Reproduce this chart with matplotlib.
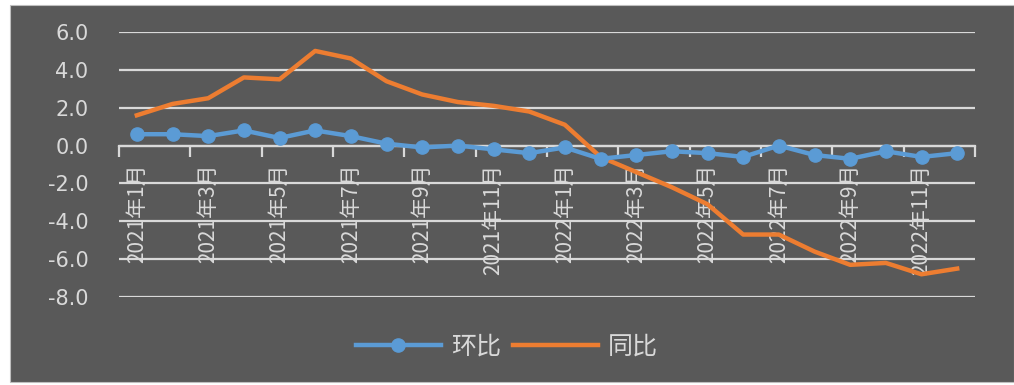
import matplotlib
matplotlib.use("Agg")
import matplotlib.pyplot as plt
from matplotlib.patches import Rectangle

plt.rcParams['font.family'] = ['Noto Sans CJK SC', 'DejaVu Sans']

# --- DATA ---
months = [f"2021年{m}月" for m in range(1, 13)] + [f"2022年{m}月" for m in range(1, 13)]
huanbi = [0.6, 0.6, 0.5, 0.8, 0.4, 0.8, 0.5, 0.1, -0.1, 0.0, -0.2, -0.4,
          -0.1, -0.7, -0.5, -0.3, -0.4, -0.6, 0.0, -0.5, -0.7, -0.3, -0.6, -0.4]
tongbi = [1.6, 2.2, 2.5, 3.6, 3.5, 5.0, 4.6, 3.4, 2.7, 2.3, 2.1, 1.8,
          1.1, -0.6, -1.4, -2.2, -3.1, -4.7, -4.7, -5.6, -6.3, -6.2, -6.8, -6.5]
yticks = [-8, -6, -4, -2, 0, 2, 4, 6]

bg = '#595959'
light = '#D9D9D9'
blue = '#5B9BD5'
orange = '#ED7D31'

fig = plt.figure(figsize=(10.14, 3.85), dpi=100, facecolor='white')
fig.patches.append(Rectangle((10 / 1014, 3 / 385), 1 - 10 / 1014, 1 - 8 / 385,
                             transform=fig.transFigure, facecolor=bg,
                             edgecolor='#BFBFBF', linewidth=0.8, zorder=-10))

ax = fig.add_axes([119 / 1014, 1 - 297 / 385, (975 - 119) / 1014, (297 - 32) / 385])
ax.set_facecolor('none')

x = list(range(len(months)))
ax.plot(x, tongbi, color=orange, linewidth=3.2, solid_joinstyle='round', label='同比', zorder=3)
ax.plot(x, huanbi, color=blue, linewidth=3.2, marker='o', markersize=9.5,
        label='环比', zorder=4)

ax.set_xlim(-0.5, len(months) - 0.5)
ax.set_ylim(-8, 6)

# gridlines
ax.set_yticks(yticks)
ax.set_yticklabels([f"{v:.1f}" for v in yticks], family='DejaVu Sans')
ax.grid(axis='y', color=light, linewidth=1.6)
ax.set_axisbelow(True)
ax.tick_params(axis='y', length=0, pad=22, labelsize=15, labelcolor=light)

# category axis at zero
for s in ['top', 'right', 'left']:
    ax.spines[s].set_visible(False)
ax.spines['bottom'].set_position(('data', 0))
ax.spines['bottom'].set_color(light)
ax.spines['bottom'].set_linewidth(1.6)
ax.set_xticks([i - 0.5 for i in range(0, len(months) + 1, 2)])
ax.set_xticklabels([])
ax.tick_params(axis='x', which='major', direction='out', length=8, width=1.6, color=light)
ax.set_xticks(x[::2], minor=True)
ax.set_xticklabels(months[::2], minor=True, rotation=90, fontsize=15, color=light, va='top')
ax.tick_params(axis='x', which='minor', length=0, pad=13)

h, l = ax.get_legend_handles_labels()
fig.legend(h[::-1], l[::-1], loc='center', bbox_to_anchor=(0.5, 1 - 347 / 385), ncol=2,
           frameon=False, fontsize=18, labelcolor=light, handlelength=3.4,
           columnspacing=0.5, handletextpad=0.4)

fig.savefig('out.png', dpi=100, facecolor='white')
